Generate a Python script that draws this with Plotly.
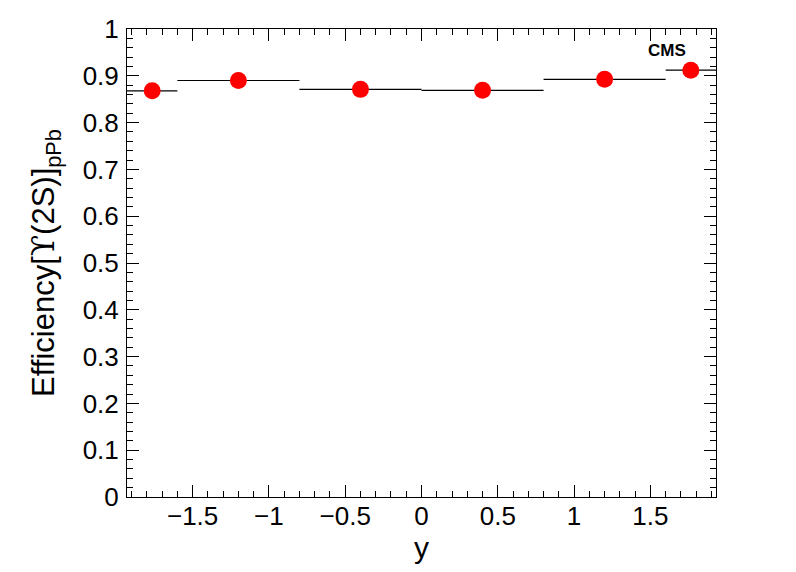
import plotly.graph_objects as go

bin_edges = [-1.93, -1.6, -0.8, 0.0, 0.8, 1.6, 1.93]
efficiency = [0.868, 0.890, 0.871, 0.869, 0.8925, 0.912]
x_tick_vals = [-1.5, -1, -0.5, 0, 0.5, 1, 1.5]
x_tick_text = ["\u22121.5", "\u22121", "\u22120.5", "0", "0.5", "1", "1.5"]
y_tick_vals = [0, 0.1, 0.2, 0.3, 0.4, 0.5, 0.6, 0.7, 0.8, 0.9, 1]
y_tick_text = ["0", "0.1", "0.2", "0.3", "0.4", "0.5", "0.6", "0.7", "0.8", "0.9", "1"]

centers = [(a + b) / 2 for a, b in zip(bin_edges[:-1], bin_edges[1:])]
half_w = [(b - a) / 2 for a, b in zip(bin_edges[:-1], bin_edges[1:])]

FONT = "Liberation Sans, Arial, Helvetica, sans-serif"

fig = go.Figure()
fig.add_trace(go.Scatter(
    x=centers, y=efficiency, mode="markers",
    marker=dict(color="#ff0000", size=17, symbol="circle"),
    error_x=dict(type="data", array=half_w, symmetric=True, width=0,
                 color="black", thickness=1.2),
    showlegend=False,
))

fig.add_annotation(text="<b>CMS</b>", x=1.47, y=0.955, xref="x", yref="y",
                   xanchor="left", yanchor="middle", showarrow=False,
                   font=dict(family=FONT, size=17, color="black"))

fig.update_layout(
    width=788, height=564,
    margin=dict(l=119, r=80, t=21, b=75, autoexpand=False),
    paper_bgcolor="white", plot_bgcolor="white",
    font=dict(family=FONT, color="black"),
)
fig.update_xaxes(
    range=[bin_edges[0], bin_edges[-1]], automargin=False,
    tickvals=x_tick_vals, ticktext=x_tick_text,
    ticks="inside", ticklen=12, tickwidth=1, tickcolor="black",
    minor=dict(ticks="inside", ticklen=6, dtick=0.1, tick0=0, tickcolor="black"),
    showline=True, linecolor="black", linewidth=1, mirror="ticks",
    showgrid=False, zeroline=False,
    tickfont=dict(size=26), ticklabelstandoff=-4,
    title=dict(text="y", font=dict(size=30), standoff=4),
)
fig.update_yaxes(
    range=[0, 1], automargin=False,
    tickvals=y_tick_vals, ticktext=y_tick_text,
    ticks="inside", ticklen=12, tickwidth=1, tickcolor="black",
    minor=dict(ticks="inside", ticklen=6, dtick=0.02, tick0=0, tickcolor="black"),
    showline=True, linecolor="black", linewidth=1, mirror="ticks",
    showgrid=False, zeroline=False,
    tickfont=dict(size=26), ticklabelstandoff=2,
    title=dict(text="Efficiency[<span style=\"font-family:DejaVu Serif\">\u03d2</span>(2S)]<sub>pPb</sub>",
               font=dict(size=31), standoff=18),
)

fig.write_html("out.html")
